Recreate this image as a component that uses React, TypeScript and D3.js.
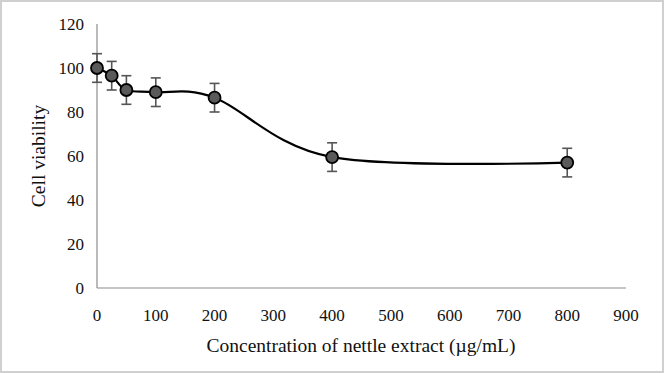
import { useEffect, useRef } from 'react'
import * as d3 from 'd3'

const concentrations = [0, 25, 50, 100, 200, 400, 800]
const viability = [100, 96.5, 90, 89, 86.5, 59.5, 57]
const errors = [6.5, 6.5, 6.5, 6.5, 6.5, 6.5, 6.5]
const xTicks = [0, 100, 200, 300, 400, 500, 600, 700, 800, 900]
const yTicks = [0, 20, 40, 60, 80, 100, 120]

export default function App() {
  const svgRef = useRef<SVGSVGElement | null>(null)

  useEffect(() => {
    if (!svgRef.current) return
    const width = 664
    const height = 373
    const font = '"Liberation Serif", "Times New Roman", serif'

    const svg = d3.select(svgRef.current)
    svg.selectAll('*').remove()
    svg.attr('width', width).attr('height', height)

    svg.append('rect')
      .attr('x', 1).attr('y', 1)
      .attr('width', width - 2).attr('height', height - 2)
      .attr('fill', '#fff')
      .attr('stroke', '#d0d0d0')
      .attr('stroke-width', 2)

    const x = d3.scaleLinear().domain([0, 900]).range([97, 626])
    const y = d3.scaleLinear().domain([0, 120]).range([288, 24])

    // axis lines
    svg.append('line')
      .attr('x1', x(0)).attr('x2', x(0))
      .attr('y1', y(120)).attr('y2', y(0))
      .attr('stroke', '#8c8c8c').attr('stroke-width', 1.2)
    svg.append('line')
      .attr('x1', x(0)).attr('x2', x(900))
      .attr('y1', y(0)).attr('y2', y(0))
      .attr('stroke', '#8c8c8c').attr('stroke-width', 1.2)

    // tick labels
    svg.append('g').selectAll('text')
      .data(yTicks).enter().append('text')
      .attr('x', x(0) - 13)
      .attr('y', d => y(d))
      .attr('dy', '0.35em')
      .attr('text-anchor', 'end')
      .style('font-family', font)
      .style('font-size', '17px')
      .style('fill', '#111')
      .text(d => d)

    svg.append('g').selectAll('text')
      .data(xTicks).enter().append('text')
      .attr('x', d => x(d))
      .attr('y', 315)
      .attr('dy', '0.35em')
      .attr('text-anchor', 'middle')
      .style('font-family', font)
      .style('font-size', '17px')
      .style('fill', '#111')
      .text(d => d)

    // axis titles
    svg.append('text')
      .attr('x', 361)
      .attr('y', 345)
      .attr('dy', '0.35em')
      .attr('text-anchor', 'middle')
      .style('font-family', font)
      .style('font-size', '19.5px')
      .style('fill', '#111')
      .text('Concentration of nettle extract (µg/mL)')

    svg.append('text')
      .attr('transform', `translate(38, ${y(60)}) rotate(-90)`)
      .attr('dy', '0.35em')
      .attr('text-anchor', 'middle')
      .style('font-family', font)
      .style('font-size', '19.5px')
      .style('fill', '#111')
      .text('Cell viability')

    const pts = concentrations.map((c, i) => ({ c, v: viability[i], e: errors[i] }))

    // smoothed line
    const line = d3.line<{ c: number; v: number }>()
      .x(d => x(d.c))
      .y(d => y(d.v))
      .curve(d3.curveCardinal.tension(0))
    svg.append('path')
      .datum(pts)
      .attr('d', line)
      .attr('fill', 'none')
      .attr('stroke', '#000')
      .attr('stroke-width', 2.2)

    // error bars
    const eb = svg.append('g').attr('stroke', '#555').attr('stroke-width', 1.6)
    pts.forEach(d => {
      eb.append('line')
        .attr('x1', x(d.c)).attr('x2', x(d.c))
        .attr('y1', y(d.v + d.e)).attr('y2', y(d.v - d.e))
      ;[d.v + d.e, d.v - d.e].forEach(v => {
        eb.append('line')
          .attr('x1', x(d.c) - 5).attr('x2', x(d.c) + 5)
          .attr('y1', y(v)).attr('y2', y(v))
      })
    })

    // markers
    svg.append('g').selectAll('circle')
      .data(pts).enter().append('circle')
      .attr('cx', d => x(d.c))
      .attr('cy', d => y(d.v))
      .attr('r', 6)
      .attr('fill', '#5a5a5a')
      .attr('stroke', '#000')
      .attr('stroke-width', 1.8)
  }, [])

  return (
    <svg ref={svgRef} style={{ position: 'absolute', top: 0, left: 0, display: 'block' }}></svg>
  )
}
